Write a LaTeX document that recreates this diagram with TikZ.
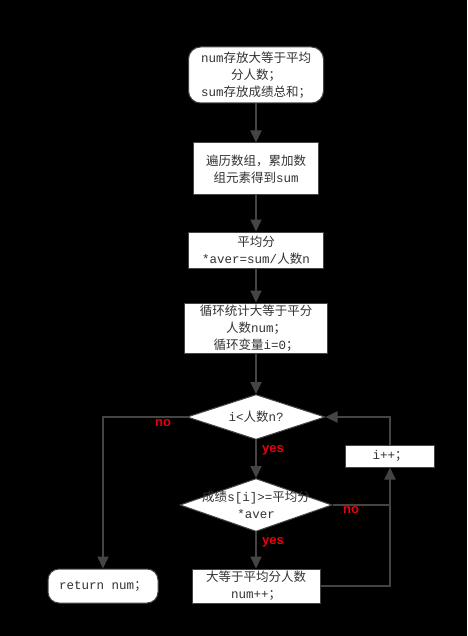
\documentclass[tikz,border=0pt]{standalone}
\usepackage{fontspec}
\setmainfont{Noto Sans CJK SC}
\newfontfamily\lblfont{Liberation Sans}
\newfontfamily\latfont{Liberation Mono}
\newcommand{\lt}[1]{{\latfont #1}}
\usetikzlibrary{arrows.meta,shapes.geometric}
\definecolor{linec}{HTML}{444444}
\definecolor{txtc}{HTML}{333333}
\definecolor{lblred}{HTML}{E8000B}
\tikzset{
  every node/.style={font=\fontsize{12.5}{17}\selectfont, text=txtc},
  boxstyle/.style={draw=linec, line width=1pt, fill=white, align=center, inner sep=0pt},
  termstyle/.style={boxstyle, rounded corners=12pt},
  decstyle/.style={diamond, draw=linec, line width=1pt, fill=white, inner sep=0pt},
  conn/.style={draw=linec, line width=2pt},
  arr/.style={conn, -{Triangle[length=12pt,width=11pt]}},
  ylabel/.style={font=\lblfont\bfseries\fontsize{13}{15}\selectfont, text=lblred}
}
\begin{document}
\begin{tikzpicture}[x=1pt,y=-1pt]
\path[fill=black] (0,0) rectangle (467,636);
\useasboundingbox (0,0) rectangle (467,636);

\node[termstyle, minimum width=135pt, minimum height=56pt] (s) at (256,75)
  {\lt{num}存放大等于平均\\分人数；\\\lt{sum}存放成绩总和；};
\node[boxstyle, minimum width=125pt, minimum height=52pt] (b2) at (256,169)
  {遍历数组，累加数\\组元素得到\lt{sum}};
\node[boxstyle, minimum width=135pt, minimum height=36pt] (b3) at (256,250)
  {平均分\\\lt{*aver=sum/}人数\lt{n}};
\node[boxstyle, minimum width=143pt, minimum height=50pt] (b4) at (256,328)
  {循环统计大等于平分\\人数\lt{num}；\\循环变量\lt{i=0}；};
\node[decstyle, minimum width=138pt, minimum height=45pt] (d1) at (256,417) {};
\node at (d1.center) {\lt{i<}人数\lt{n?}};
\node[decstyle, minimum width=152pt, minimum height=53pt] (d2) at (256,505) {};
\node[align=center] at (d2.center) {成绩\lt{s[i]>=}平均分\\\lt{*aver}};
\node[boxstyle, minimum width=89pt, minimum height=22pt] (inc) at (390,456) {\lt{i++}；};
\node[boxstyle, minimum width=128pt, minimum height=34pt] (last) at (256,586)
  {大等于平均分人数\\\lt{num++}；};
\node[termstyle, minimum width=110pt, minimum height=34pt, rounded corners=11pt] (ret) at (103,586)
  {\lt{return num}；};

\coordinate (j) at (inc.south |- d2.east);

\draw[arr] (s.south) -- (b2.north);
\draw[arr] (b2.south) -- (b3.north);
\draw[arr] (b3.south) -- (b4.north);
\draw[arr] (b4.south) -- (d1.north);
\draw[arr] (d1.west) -| (ret.north);
\draw[arr] (d1.south) -- (d2.north);
\draw[arr] (d2.east) -| (inc.south);
\draw[arr] (inc.north) |- (d1.east);
\draw[arr] (d2.south) -- (last.north);
\draw[conn] (last.east) -| (j);

\node[ylabel] (lno1) at (163,423) {no};
\node[ylabel] (lyes1) at (273,450) {yes};
\node[ylabel] (lno2) at (351,510) {no};
\node[ylabel] (lyes2) at (273,542) {yes};
\end{tikzpicture}
\end{document}
